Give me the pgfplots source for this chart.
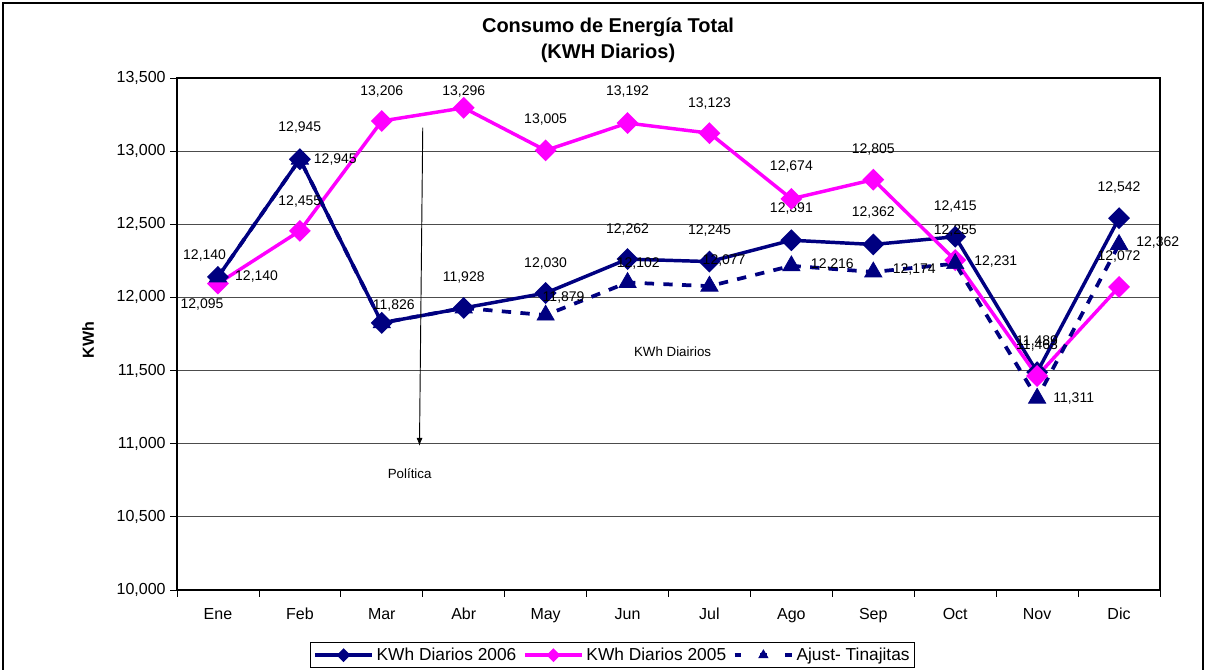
\documentclass[border=0pt]{standalone}
\usepackage{pgfplots}
\pgfplotsset{compat=1.18}
\usepackage{pgfplotstable}
\usepackage{fontspec}
\setmainfont{Liberation Sans}
\usetikzlibrary{arrows.meta}
\definecolor{navyb}{RGB}{0,0,128}
\definecolor{mag}{RGB}{255,0,255}

\pgfplotstableread{
x y lab dx dy
0 12140 {12,140} -10 16
1 12945 {12,945} 0 24
2 11826 {} 0 22
3 11928 {11,928} 0 22.5
4 12030 {12,030} 0 22.5
5 12262 {12,262} 0 22.5
6 12245 {12,245} 0 23
7 12391 {12,391} 0 23.5
8 12362 {12,362} 0 24
9 12415 {12,415} 0 22.5
10 11489 {11,489} 0 23
11 12542 {12,542} 0 23
}\tabA

\pgfplotstableread{
x y lab dx dy
0 12095 {12,095} -12 -16
1 12455 {12,455} 0 22
2 13206 {13,206} 0 22.5
3 13296 {13,296} 0 12.5
4 13005 {13,005} 0 23
5 13192 {13,192} 0 24
6 13123 {13,123} 0 22
7 12674 {12,674} 0 24
8 12805 {12,805} 0 22.5
9 12255 {12,255} 0 22.5
10 11463 {11,463} 0 22.5
11 12072 {12,072} 0 23
}\tabB

\pgfplotstableread{
x y lab dx dy
0 12140 {12,140} 29 0
1 12945 {12,945} 26.6 0
2 11826 {11,826} 9 12.75
3 11928 {} 0 0
4 11879 {11,879} 13.5 13
5 12102 {12,102} 8 14
6 12077 {12,077} 11 19
7 12216 {12,216} 30.75 0.75
8 12174 {12,174} 30.75 1.5
9 12231 {12,231} 30.4 1.5
10 11311 {11,311} 27.4 0
11 12362 {12,362} 29 1.5
}\tabC

\pgfplotsset{
  lbls/.style={
    nodes near coords,
    point meta=explicit symbolic,
    visualization depends on={\thisrow{dx}\as\dx},
    visualization depends on={\thisrow{dy}\as\dy},
    every node near coord/.append style={font=\fontsize{10.5}{12}\selectfont, text=black, anchor=center, xshift=\dx, yshift=\dy},
  }
}

\begin{document}
\begin{tikzpicture}
\useasboundingbox (-132.75pt,-59.25pt) rectangle (771.75pt,442.5pt);
\draw[black, line width=0.8pt] (-130.5pt,-80pt) rectangle (769.5pt,440.25pt);
\begin{axis}[
  at={(0pt,0pt)}, anchor=south west,
  scale only axis, width=737.25pt, height=384pt,
  xmin=-0.5, xmax=11.5, ymin=10000, ymax=13500,
  clip=false,
  xtick={0,1,...,11},
  xticklabels={Ene,Feb,Mar,Abr,May,Jun,Jul,Ago,Sep,Oct,Nov,Dic},
  minor xtick={-0.5,0.5,...,11.5},
  ytick={10000,10500,...,13500},
  scaled y ticks=false,
  /pgf/number format/assume math mode=true,
  /pgf/number format/1000 sep={,},
  ymajorgrids,
  grid style={black!70, line width=0.7pt},
  axis line style={black, line width=0.9pt},
  xtick pos=left, ytick pos=left,
  tick align=outside,
  major tick length=5pt, minor tick length=5pt,
  major x tick style={draw=none},
  minor x tick style={black, line width=0.6pt},
  major y tick style={black, line width=0.6pt},
  tick label style={font=\fontsize{12}{14}\selectfont},
  xticklabel style={yshift=-5pt},
  legend columns=3,
  legend style={at={(0.1353,-0.1016)}, anchor=north west, draw=black, line width=0.8pt,
    font=\fontsize{13}{15}\selectfont, inner xsep=2pt, inner ysep=2pt,
    /tikz/every even column/.append style={column sep=3pt},
    cells={anchor=west}},
  legend image code/.code={\draw[mark repeat=2, mark phase=2] plot coordinates {(0pt,0pt) (21.5pt,0pt) (43pt,0pt)};},
]
\addplot[lbls, color=navyb, line width=2.6pt, mark=square*, mark size=4.5pt, mark options={rotate=45, solid, fill=navyb},
  legend image post style={mark size=2.4pt}]
  table[x=x, y=y, meta=lab] {\tabA};
\addlegendentry{KWh Diarios 2006}
\addplot[lbls, color=mag, line width=2.6pt, mark=square*, mark size=4.5pt, mark options={rotate=45, solid, fill=mag},
  legend image post style={mark size=2.4pt}]
  table[x=x, y=y, meta=lab] {\tabB};
\addlegendentry{KWh Diarios 2005}
\addplot[lbls, color=navyb, line width=2.8pt, dash pattern=on 7pt off 7pt, mark=triangle*, mark size=7.5pt, mark options={solid, fill=navyb, draw=navyb, line width=0.5pt},
  legend image post style={mark size=4pt, dash pattern=on 5pt off 14pt on 5pt off 14pt on 5pt}]
  table[x=x, y=y, meta=lab] {\tabC};
\addlegendentry{Ajust- Tinajitas}
\draw[-{Latex[length=6pt,width=4.5pt]}, line width=0.7pt, black] (axis cs:2.5,13160) -- (axis cs:2.46,10985);
\node[font=\fontsize{10}{12}\selectfont] at (axis cs:2.34,10798) {Política};
\node[font=\fontsize{10}{12}\selectfont] at (axis cs:5.55,11626) {KWh Diairios};
\end{axis}
\node[font=\bfseries\fontsize{15}{19.5}\selectfont, align=center] at (323.25pt,412.5pt) {Consumo de Energía Total\\(KWH Diarios)};
\node[rotate=90, font=\bfseries\fontsize{12}{14}\selectfont] at (-66.75pt,187.5pt) {KWh};
\end{tikzpicture}
\end{document}
